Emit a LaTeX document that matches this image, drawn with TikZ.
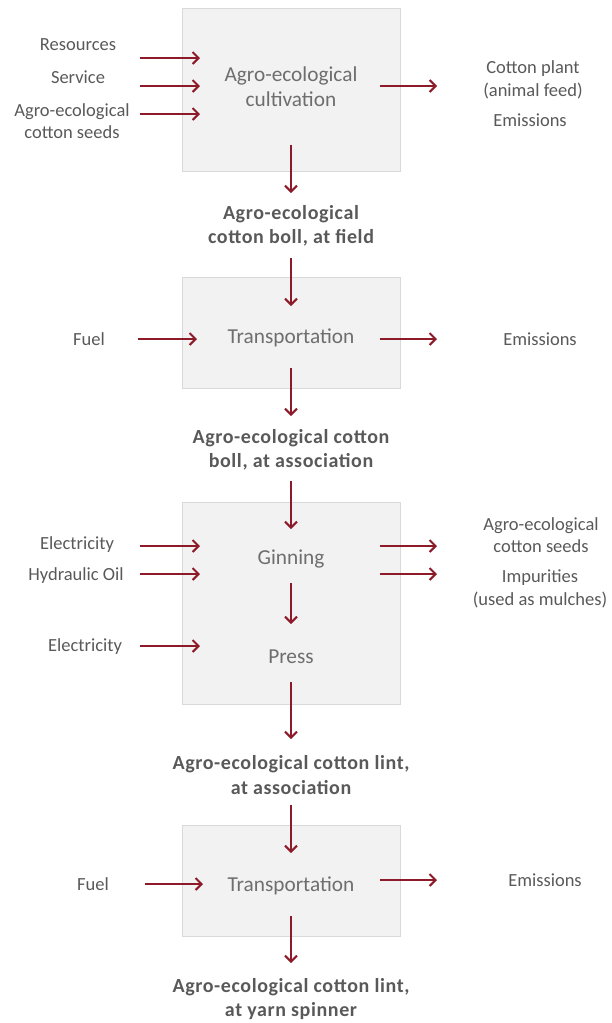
\documentclass[tikz,border=0pt]{standalone}
\usepackage{fontspec}
\setmainfont{Carlito}
\usetikzlibrary{arrows.meta}
\definecolor{arr}{RGB}{140,26,40}
\definecolor{boxfill}{RGB}{242,242,242}
\definecolor{boxline}{RGB}{217,217,217}
\definecolor{txt}{RGB}{89,89,89}
\definecolor{boxtxt}{RGB}{110,110,110}
\tikzset{
  proc/.style={draw=boxline, fill=boxfill, line width=1pt, anchor=north west, inner sep=0pt},
  flow/.style={draw=arr, line width=2pt, -{Straight Barb[length=6pt,width=12pt,line width=2pt]}},
  lab/.style={text=txt, font=\fontsize{18.5}{22.5}\selectfont, align=center, inner sep=0pt},
  blab/.style={text=txt, font=\fontsize{20}{24.5}\selectfont\bfseries\addfontfeature{LetterSpace=3}, align=center, inner sep=0pt},
  btxt/.style={text=boxtxt, font=\fontsize{21.3}{25}\selectfont, align=center, inner sep=0pt},
}
\begin{document}
\begin{tikzpicture}[x=1pt,y=-1pt]
\useasboundingbox (0,0) rectangle (612,1023);
% boxes
\node[proc, minimum width=218pt, minimum height=163pt] (b1) at (182,8) {};
\node[proc, minimum width=218pt, minimum height=111pt] (b2) at (182,277) {};
\node[proc, minimum width=218pt, minimum height=202pt] (b3) at (182,502) {};
\node[proc, minimum width=218pt, minimum height=111pt] (b4) at (182,825) {};
% box texts
\node[btxt] (t1) at (291,87) {Agro-ecological\\cultivation};
\node[btxt] (t2) at (291,338) {Transportation};
\node[btxt] (t3a) at (291,559) {Ginning};
\node[btxt] (t3b) at (291,657) {Press};
\node[btxt] (t4) at (291,886) {Transportation};
% bold intermediate products
\node[blab] (p1) at (291,226) {Agro-ecological\\cotton boll, at field};
\node[blab] (p2) at (291,450) {Agro-ecological cotton\\boll, at association};
\node[blab] (p3) at (291,775) {Agro-ecological cotton lint,\\at association};
\node[blab] (p4) at (291,999) {Agro-ecological cotton lint,\\at yarn spinner};
% side labels box 1
\node[lab] (r1) at (78,45) {Resources};
\node[lab] (s1) at (78,77) {Service};
\node[lab] (c1) at (72,121) {Agro-ecological\\cotton seeds};
\node[lab] (o1) at (533,80) {Cotton plant\\(animal feed)};
\node[lab] (e1) at (530,120) {Emissions};
% box 2
\node[lab] (f2) at (89,339) {Fuel};
\node[lab] (e2) at (540,339) {Emissions};
% box 3
\node[lab] (el3) at (77,545) {Electricity};
\node[lab] (h3) at (76,576) {Hydraulic Oil};
\node[lab] (el3b) at (85,647) {Electricity};
\node[lab] (s3) at (541,535) {Agro-ecological\\cotton seeds};
\node[lab] (i3) at (540,589) {Impurities\\(used as mulches)};
% box 4
\node[lab] (f4) at (93,884) {Fuel};
\node[lab] (e4) at (545,880) {Emissions};
% arrow coordinates
\coordinate (a1s) at (140,58); \coordinate (a1e) at (200,58);
\coordinate (a2s) at (140,86); \coordinate (a2e) at (200,86);
\coordinate (a3s) at (140,114); \coordinate (a3e) at (200,114);
\coordinate (a4s) at (380,86); \coordinate (a4e) at (437,86);
\coordinate (d1s) at (291,145); \coordinate (d1e) at (291,193);
\coordinate (d2s) at (291,258); \coordinate (d2e) at (291,306);
\coordinate (a5s) at (138,339); \coordinate (a5e) at (197,339);
\coordinate (a6s) at (380,339); \coordinate (a6e) at (437,339);
\coordinate (d3s) at (291,368); \coordinate (d3e) at (291,416);
\coordinate (d4s) at (291,481); \coordinate (d4e) at (291,529);
\coordinate (a7s) at (140,546); \coordinate (a7e) at (200,546);
\coordinate (a8s) at (140,574); \coordinate (a8e) at (200,574);
\coordinate (a9s) at (140,646); \coordinate (a9e) at (200,646);
\coordinate (a10s) at (380,546); \coordinate (a10e) at (437,546);
\coordinate (a11s) at (380,574); \coordinate (a11e) at (437,574);
\coordinate (d5s) at (291,583); \coordinate (d5e) at (291,624);
\coordinate (d6s) at (291,682); \coordinate (d6e) at (291,739);
\coordinate (d7s) at (291,805); \coordinate (d7e) at (291,853);
\coordinate (a12s) at (145,884); \coordinate (a12e) at (203,884);
\coordinate (a13s) at (380,880); \coordinate (a13e) at (437,880);
\coordinate (d8s) at (291,916); \coordinate (d8e) at (291,963);
% arrows
\foreach \n in {a1,a2,a3,a4,a5,a6,a7,a8,a9,a10,a11,a12,a13,d1,d2,d3,d4,d5,d6,d7,d8}
  \draw[flow] (\n s) -- (\n e);
\end{tikzpicture}
\end{document}
